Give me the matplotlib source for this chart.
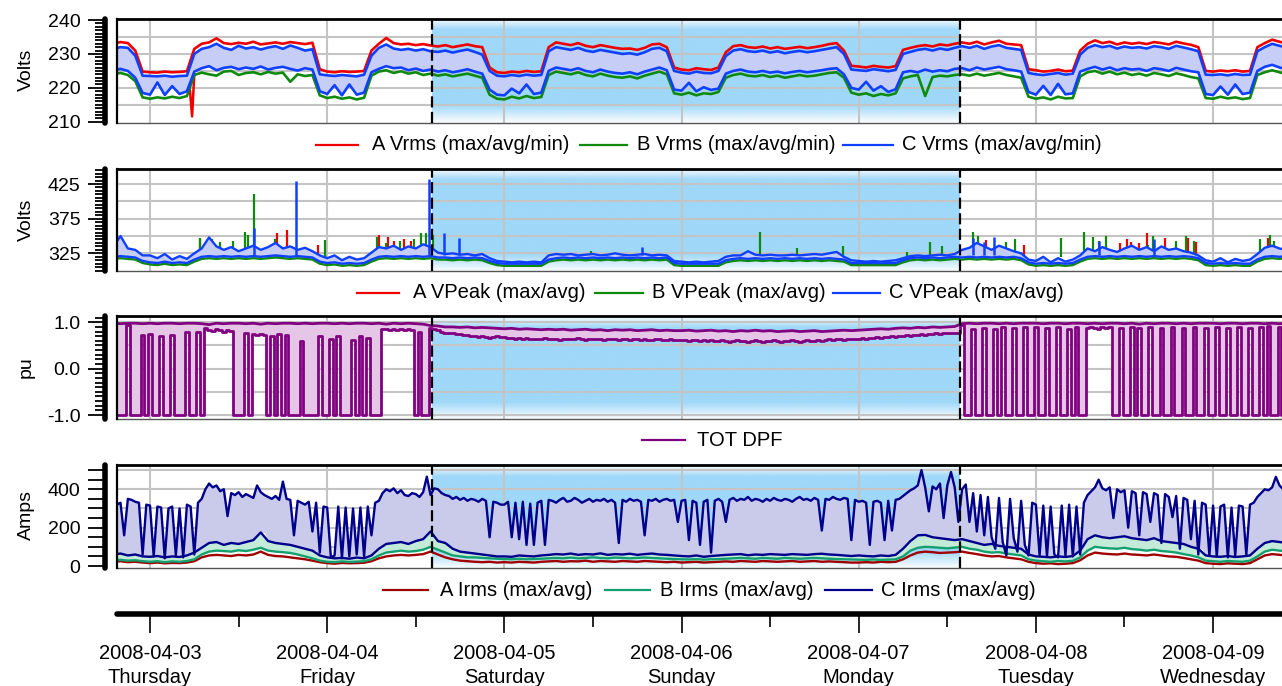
import numpy as np
import matplotlib
matplotlib.use("Agg")
import matplotlib.pyplot as plt
from matplotlib.colors import to_rgb
from matplotlib.lines import Line2D
from matplotlib.ticker import MultipleLocator, FixedLocator, FuncFormatter

plt.rcParams['font.family'] = ['Liberation Sans', 'DejaVu Sans']
plt.rcParams['axes.unicode_minus'] = False

W, H, DPI = 1282, 686, 100

# ---------------------------------------------------------------------------
# Time base: hours counted from 2008-04-03 00:00; first sample is Wed 19:00
# ---------------------------------------------------------------------------
FIRST_HOUR = -5
day_dates = ["2008-04-03", "2008-04-04", "2008-04-05", "2008-04-06",
             "2008-04-07", "2008-04-08", "2008-04-09"]
day_names = ["Thursday", "Friday", "Saturday", "Sunday", "Monday",
             "Tuesday", "Wednesday"]
weekend_hours = (38.2, 109.7)

# ---------------------------------------------------------------------------
# RMS voltage (hourly)
# ---------------------------------------------------------------------------
a_vrms_max = [
    233.0, 233.5, 233.2, 231.0, 224.8,
    224.6, 224.5, 224.8, 224.6, 224.7, 224.9, 231.5, 233.0, 233.4, 234.6, 233.2, 232.9,
    233.3, 233.0, 233.6, 232.8, 233.1, 233.4, 233.0, 233.5, 233.2, 232.9, 233.3, 225.5,
    224.8, 224.6, 224.9, 224.7, 224.8, 225.0, 231.0, 233.0, 234.7, 233.2, 232.8, 233.0,
    232.6, 232.9, 232.5, 232.2, 232.6, 232.0, 232.4, 232.8, 232.3, 232.0, 226.0, 224.6,
    224.4, 224.8, 224.6, 225.0, 224.7, 224.9, 232.0, 233.4, 233.0, 232.6, 233.2, 232.4,
    232.0, 232.6, 232.2, 231.8, 231.5, 231.6, 231.2, 231.8, 232.8, 233.0, 232.0, 226.0,
    225.4, 225.2, 225.8, 225.5, 225.3, 226.0, 230.5, 232.3, 232.6, 232.0, 231.8, 232.2,
    231.6, 232.0, 231.5, 231.8, 232.1, 231.7, 232.0, 232.4, 232.9, 233.2, 231.0, 226.5,
    226.3, 226.0, 226.5, 226.2, 226.0, 226.4, 231.2, 231.8, 232.3, 232.6, 232.2, 232.8,
    232.5, 233.0, 233.4, 233.0, 233.6, 232.8, 233.4, 233.9, 233.0, 232.8, 232.6, 225.5,
    225.2, 224.8, 225.0, 225.4, 224.9, 225.1, 231.0, 233.0, 234.0, 233.2, 233.6, 232.8,
    233.4, 233.0, 233.3, 232.9, 233.5, 233.2, 232.8, 233.6, 233.1, 232.7, 232.0, 225.0,
    224.8, 225.1, 224.9, 225.2, 224.8, 225.0, 232.0, 233.2, 234.2, 233.6, 233.0,
]
c_vrms_max = [
    231.5, 232.0, 231.8, 229.5, 223.6,
    223.5, 223.4, 223.6, 223.3, 223.5, 223.6, 230.0, 231.5, 232.0, 233.0, 231.8, 231.2,
    232.4, 231.6, 232.0, 231.3, 231.9, 232.3, 231.5, 232.5, 231.8, 231.0, 231.4, 224.0,
    223.7, 223.5, 223.8, 223.6, 223.4, 223.9, 229.5, 231.8, 232.8, 231.6, 231.2, 231.5,
    231.0, 231.4, 230.8, 230.6, 231.0, 230.4, 230.9, 231.3, 230.6, 229.8, 225.0, 223.6,
    223.4, 223.8, 223.5, 223.9, 223.6, 223.8, 230.8, 232.0, 231.6, 231.2, 231.8, 231.0,
    230.6, 231.2, 230.8, 230.4, 230.0, 230.2, 229.8, 230.5, 231.5, 231.8, 230.8, 225.0,
    224.5, 224.2, 224.8, 224.4, 224.3, 225.0, 229.4, 231.0, 231.4, 230.8, 230.6, 231.0,
    230.4, 230.8, 230.2, 230.6, 230.9, 230.5, 230.8, 231.2, 231.6, 232.0, 230.0, 225.4,
    225.2, 225.0, 225.5, 225.2, 224.9, 225.3, 230.0, 230.6, 231.2, 231.5, 231.0, 231.6,
    231.2, 231.8, 232.3, 231.8, 232.4, 231.5, 232.2, 232.6, 231.8, 231.5, 231.2, 224.4,
    224.0, 223.8, 224.1, 224.4, 223.9, 224.2, 229.8, 231.8, 232.6, 232.0, 232.4, 231.6,
    232.2, 231.8, 232.0, 231.6, 232.3, 232.0, 231.5, 232.4, 231.9, 231.4, 230.8, 223.9,
    223.8, 224.0, 223.7, 224.1, 223.8, 223.9, 230.8, 232.0, 233.0, 232.4, 231.8,
]
c_vrms_min = [
    225.2, 225.6, 225.0, 223.0, 218.5,
    218.0, 221.6, 217.9, 220.5, 218.2, 219.0, 224.8, 225.8, 226.4, 225.2, 225.9, 226.2,
    225.5, 226.0, 225.6, 226.3, 225.4, 225.9, 226.2, 225.6, 225.1, 225.8, 225.4, 219.0,
    218.2, 220.8, 217.8, 221.0, 218.0, 218.6, 224.6, 225.6, 226.4, 225.8, 226.0, 225.2,
    225.7, 225.0, 225.4, 224.8, 225.2, 224.6, 225.0, 225.5, 224.8, 224.2, 219.5, 218.0,
    217.8, 219.8, 218.4, 221.0, 218.2, 218.6, 225.0, 226.0, 225.6, 225.2, 225.8, 225.0,
    224.6, 225.4, 224.8, 224.4, 224.2, 224.6, 224.0, 224.8, 225.4, 226.0, 225.2, 219.5,
    219.2, 221.5, 219.0, 220.2, 219.4, 219.8, 224.2, 225.0, 225.4, 224.8, 224.6, 225.0,
    224.5, 224.8, 224.3, 224.7, 225.0, 224.6, 224.9, 225.2, 225.6, 225.8, 224.0, 220.0,
    219.5, 221.8, 219.2, 220.5, 218.8, 219.6, 224.6, 225.0, 224.6, 225.4, 224.8, 225.2,
    224.9, 225.6, 225.8, 225.2, 226.0, 225.4, 225.8, 226.2, 225.5, 225.2, 224.8, 218.8,
    218.0, 220.6, 217.9, 221.2, 218.1, 218.4, 224.8, 225.6, 226.2, 225.4, 226.0, 225.2,
    225.8, 225.4, 225.6, 225.0, 225.8, 225.5, 225.0, 225.9, 225.4, 224.9, 224.6, 218.2,
    217.9, 220.4, 218.0, 221.0, 218.2, 218.6, 225.0, 226.2, 226.8, 226.0, 225.4,
]
b_vrms_min = [
    224.0, 224.4, 223.8, 222.0, 217.2,
    216.8, 217.2, 216.9, 217.4, 217.0, 217.6, 223.8, 224.5, 224.0, 223.6, 224.8, 225.0,
    223.8, 224.4, 224.6, 224.0, 224.7, 224.2, 224.5, 221.8, 224.0, 223.5, 223.8, 217.8,
    217.0, 217.4, 216.8, 217.2, 216.6, 217.1, 223.6, 224.8, 225.2, 224.4, 224.9, 224.2,
    224.6, 223.8, 224.2, 223.6, 224.0, 223.4, 223.8, 224.2, 223.6, 223.0, 218.0, 216.8,
    216.6, 217.4, 216.9, 217.6, 217.0, 217.3, 223.8, 224.8, 224.4, 224.0, 224.6, 223.8,
    223.4, 224.2, 223.6, 223.2, 223.0, 223.4, 222.8, 223.6, 224.2, 224.8, 224.0, 218.4,
    218.0, 218.6, 217.8, 218.4, 218.2, 218.8, 223.0, 223.8, 224.2, 223.6, 223.4, 223.8,
    223.2, 223.6, 223.0, 223.4, 223.8, 223.4, 223.6, 224.0, 224.4, 224.6, 223.0, 218.6,
    218.0, 218.4, 217.6, 218.2, 217.8, 218.4, 222.8, 223.4, 223.8, 217.6, 223.2, 223.6,
    223.4, 223.8, 224.0, 223.6, 224.2, 223.6, 224.0, 224.4, 223.8, 223.4, 223.0, 217.4,
    216.8, 217.2, 216.6, 217.4, 216.9, 217.0, 223.4, 224.6, 225.0, 224.2, 224.8, 224.0,
    224.5, 223.8, 224.2, 223.6, 224.4, 224.0, 223.5, 224.3, 223.8, 223.2, 222.8, 217.0,
    216.8, 217.4, 216.9, 217.2, 216.7, 217.0, 223.8, 224.6, 225.2, 224.6, 224.0,
]
# A-phase minimum around the Thursday morning sag
a_vrms_min_hours = [5.4, 5.7, 6.0]
a_vrms_min = [219.5, 211.6, 224.0]

# ---------------------------------------------------------------------------
# Peak voltage (hourly) and isolated peak readings (hour, volts)
# ---------------------------------------------------------------------------
c_vpk_max = [
    334, 350, 332, 330, 322,
    322, 318, 324, 316, 321, 317, 325, 332, 348, 335, 330, 334,
    328, 332, 336, 330, 334, 340, 332, 335, 330, 333, 328, 322,
    318, 322, 315, 320, 316, 318, 326, 334, 332, 336, 330, 335,
    332, 338, 334, 326, 324, 325, 323, 324, 322, 324, 318, 314,
    313, 312, 313, 312, 313, 312, 322, 324, 323, 324, 322, 323,
    324, 322, 323, 325, 323, 322, 323, 324, 322, 323, 322, 314,
    313, 312, 313, 312, 313, 314, 320, 322, 322, 328, 323, 322,
    323, 322, 322, 323, 322, 323, 324, 323, 325, 327, 320, 315,
    314, 313, 314, 313, 314, 315, 318, 321, 322, 321, 322, 323,
    322, 324, 330, 333, 340, 335, 330, 336, 332, 328, 325, 316,
    314, 320, 312, 318, 313, 316, 322, 332, 328, 334, 330, 327,
    332, 336, 330, 334, 328, 335, 330, 332, 328, 326, 322, 315,
    313, 318, 312, 317, 314, 316, 324, 333, 336, 332, 330,
]
c_vpk_avg = [
    320, 321, 320, 319, 314,
    312, 311, 313, 311, 312, 311, 316, 320, 321, 320, 321, 320,
    321, 320, 321, 320, 321, 322, 321, 320, 321, 320, 319, 313,
    311, 312, 310, 311, 310, 311, 316, 320, 321, 320, 321, 320,
    321, 320, 321, 319, 319, 318, 319, 318, 319, 318, 314, 311,
    310, 310, 310, 310, 310, 310, 316, 318, 319, 318, 319, 318,
    319, 318, 319, 318, 319, 318, 319, 318, 319, 318, 319, 311,
    310, 310, 310, 310, 310, 310, 315, 317, 318, 317, 318, 317,
    318, 317, 318, 317, 318, 317, 318, 317, 318, 317, 316, 311,
    311, 311, 311, 311, 311, 311, 315, 318, 319, 318, 319, 318,
    319, 320, 319, 320, 319, 320, 319, 320, 319, 320, 318, 312,
    310, 311, 310, 311, 310, 311, 316, 320, 321, 320, 321, 320,
    321, 320, 321, 320, 321, 320, 321, 320, 321, 320, 318, 311,
    310, 311, 310, 311, 310, 310, 316, 320, 321, 320, 321,
]
b_vpk_avg = [
    317, 318, 317, 316, 311,
    309, 308, 310, 308, 309, 308, 313, 317, 318, 317, 318, 317,
    318, 317, 318, 317, 318, 319, 318, 317, 318, 317, 316, 310,
    308, 309, 307, 308, 307, 308, 313, 317, 318, 317, 318, 317,
    318, 317, 318, 316, 316, 315, 316, 315, 316, 315, 311, 308,
    307, 307, 307, 307, 307, 307, 313, 315, 316, 315, 316, 315,
    316, 315, 316, 315, 316, 315, 316, 315, 316, 315, 316, 308,
    307, 307, 307, 307, 307, 307, 312, 314, 315, 314, 315, 314,
    315, 314, 315, 314, 315, 314, 315, 314, 315, 314, 313, 308,
    308, 308, 308, 308, 308, 308, 312, 315, 316, 315, 316, 315,
    316, 317, 316, 317, 316, 317, 316, 317, 316, 317, 315, 309,
    307, 308, 307, 308, 307, 308, 313, 317, 318, 317, 318, 317,
    318, 317, 318, 317, 318, 317, 318, 317, 318, 317, 315, 308,
    307, 308, 307, 308, 307, 307, 313, 317, 318, 317, 318,
]
c_vpk_peak_h = [14.1, 19.8, 37.75, 39.8, 41.8, 66.7, 111.5, 113.0, 114.3, 128.5, 136.0]
c_vpk_peak_v = [361, 429, 432, 354, 347, 334, 347, 342, 348, 343, 345]
b_vpk_peak_h = [6.8, 8.4, 9.5, 11.3, 12.9, 13.3, 14.1, 16.9, 23.7,
                30.8, 31.9, 33.9, 35.7, 36.7, 37.4, 38.3, 59.7, 82.6, 87.7, 93.9,
                102.5, 105.6, 107.3, 111.5, 112.2, 115.9, 117.2,
                123.4, 126.5, 127.7, 128.5, 129.5, 135.2, 135.9, 139.0, 140.3, 141.4,
                150.3, 151.7, 152.3]
b_vpk_peak_v = [347, 345, 342, 343, 356, 352, 411, 345, 344,
                348, 340, 343, 346, 354, 355, 352, 329, 356, 333, 335,
                327, 342, 335, 356, 350, 342, 345,
                347, 356, 349, 343, 350, 337, 350, 343, 350, 343,
                345, 352, 343]
a_vpk_peak_h = [6.8, 17.2, 18.6, 22.8, 31.0, 32.2, 33.0, 34.4, 35.3,
                113.3, 118.4, 131.4, 132.3, 132.9, 133.9, 135.0, 137.5, 140.6, 141.7,
                151.4]
a_vpk_peak_v = [347, 354, 358, 337, 351, 348, 343, 345, 343,
                344, 337, 340, 345, 342, 340, 354, 347, 347, 342,
                347]

# ---------------------------------------------------------------------------
# Displacement power factor: max hourly, min half-hourly
# ---------------------------------------------------------------------------
dpf_max = [
    0.98, 0.97, 0.98, 0.98, 0.97,
    0.98, 0.97, 0.98, 0.98, 0.97, 0.98, 0.98, 0.97, 0.95, 0.98, 0.97, 0.98,
    0.98, 0.97, 0.98, 0.96, 0.98, 0.97, 0.98, 0.98, 0.97, 0.98, 0.97, 0.98,
    0.98, 0.97, 0.98, 0.97, 0.98, 0.98, 0.97, 0.98, 0.96, 0.98, 0.97, 0.98,
    0.97, 0.96, 0.93, 0.92, 0.90, 0.90, 0.89, 0.90, 0.88, 0.89, 0.88, 0.87,
    0.86, 0.87, 0.85, 0.86, 0.85, 0.84, 0.85, 0.84, 0.85, 0.83, 0.84, 0.85,
    0.83, 0.84, 0.82, 0.84, 0.83, 0.84, 0.82, 0.83, 0.84, 0.82, 0.83, 0.82,
    0.82, 0.83, 0.81, 0.82, 0.83, 0.81, 0.82, 0.80, 0.82, 0.81, 0.83, 0.81,
    0.82, 0.80, 0.81, 0.82, 0.80, 0.81, 0.82, 0.80, 0.81, 0.82, 0.83, 0.82,
    0.83, 0.84, 0.85, 0.86, 0.85, 0.87, 0.88, 0.87, 0.89, 0.88, 0.90, 0.89,
    0.90, 0.91, 0.97, 0.98, 0.97, 0.98, 0.98, 0.97, 0.98, 0.97, 0.98, 0.98,
    0.98, 0.97, 0.98, 0.98, 0.97, 0.98, 0.98, 0.97, 0.98, 0.97, 0.98, 0.98,
    0.97, 0.98, 0.96, 0.98, 0.97, 0.98, 0.98, 0.97, 0.98, 0.97, 0.98, 0.98,
    0.98, 0.97, 0.98, 0.98, 0.97, 0.98, 0.98, 0.97, 0.98, 0.97, 0.98,
]
dpf_min = [
    -1, -1, -1, -1, 0.95, -1, -1, -1, 0.72, -1,
    # Thu
    0.75, -1, -1, 0.70, -1, -1, 0.72, -1, -1, -1, 0.80, -1,
    -1, 0.80, -1, 0.88, 0.84, 0.82, 0.86, 0.83, 0.80, 0.84, 0.82, -1,
    -1, -1, 0.78, -1, 0.75, 0.72, 0.74, 0.72, -1, 0.70, -1, 0.75,
    -1, 0.72, -1, -1, -1, 0.60, -1, -1, -1, -1, 0.70, -1,
    # Fri
    -1, 0.65, -1, 0.70, -1, -1, -1, 0.62, -1, 0.70, -1, 0.66,
    -1, -1, -1, 0.85, 0.86, 0.84, 0.85, 0.83, 0.86, 0.84, 0.85, 0.83,
    -1, 0.80, -1, -1, 0.88, 0.85, 0.83, 0.80, 0.78, 0.78, 0.76, 0.75,
    0.74, 0.72, 0.72, 0.70, 0.70, 0.68, 0.70, 0.68, 0.66, 0.68, 0.70, 0.68,
    # Sat
    0.68, 0.66, 0.67, 0.65, 0.66, 0.64, 0.66, 0.65, 0.63, 0.65, 0.64, 0.66,
    0.65, 0.63, 0.64, 0.62, 0.64, 0.65, 0.63, 0.64, 0.66, 0.64, 0.62, 0.64,
    0.63, 0.65, 0.64, 0.62, 0.63, 0.65, 0.64, 0.62, 0.64, 0.63, 0.61, 0.63,
    0.64, 0.62, 0.63, 0.61, 0.62, 0.64, 0.63, 0.61, 0.62, 0.63, 0.61, 0.62,
    # Sun
    0.61, 0.62, 0.60, 0.62, 0.61, 0.59, 0.61, 0.60, 0.62, 0.60, 0.59, 0.61,
    0.60, 0.58, 0.60, 0.61, 0.59, 0.60, 0.58, 0.60, 0.61, 0.59, 0.58, 0.60,
    0.59, 0.61, 0.60, 0.58, 0.60, 0.59, 0.61, 0.60, 0.58, 0.60, 0.61, 0.59,
    0.60, 0.62, 0.60, 0.61, 0.63, 0.62, 0.64, 0.63, 0.62, 0.64, 0.65, 0.63,
    # Mon
    0.64, 0.66, 0.65, 0.67, 0.66, 0.68, 0.67, 0.69, 0.68, 0.70, 0.69, 0.71,
    0.70, 0.72, 0.71, 0.73, 0.72, 0.74, 0.73, 0.75, 0.74, 0.76, 0.75, 0.77,
    0.76, 0.78, 0.77, 0.78, 0.95, -1, -1, 0.85, -1, -1, 0.88, -1,
    -1, 0.85, -1, 0.90, -1, -1, 0.88, -1, -1, 0.90, -1, -1,
    # Tue
    0.90, -1, -1, 0.88, -1, -1, 0.90, -1, -1, 0.86, -1, 0.90,
    -1, -1, 0.88, 0.90, 0.88, 0.86, 0.90, 0.88, 0.90, -1, -1, 0.88,
    -1, -1, 0.90, -1, 0.88, -1, -1, 0.90, -1, -1, 0.88, -1,
    -1, 0.90, -1, -1, 0.88, -1, -1, 0.90, -1, -1, 0.88, -1,
    # Wed
    -1, 0.90, -1, -1, 0.88, -1, -1, 0.90, -1, -1, 0.88, -1,
    -1, 0.90, -1, 0.92, -1, -1, 0.90, -1, -1, 0.90,
]

# ---------------------------------------------------------------------------
# RMS current: C-phase max half-hourly, averages hourly
# ---------------------------------------------------------------------------
c_irms_max = [
    325, 320, 330, 160, 350, 345, 335, 330, 60, 320,
    # Thu
    315, 50, 310, 305, 40, 300, 310, 55, 300, 45, 320, 310,
    60, 330, 350, 400, 430, 410, 420, 390, 400, 260, 380, 370,
    385, 360, 375, 365, 355, 420, 385, 370, 360, 350, 365, 345,
    440, 350, 345, 160, 340, 330, 320, 335, 180, 330, 70, 310,
    # Fri
    305, 45, 55, 310, 40, 305, 50, 300, 60, 305, 50, 310,
    160, 330, 340, 380, 400, 390, 405, 380, 395, 370, 365, 380,
    375, 360, 385, 466, 370, 405, 400, 380, 370, 365, 350, 360,
    345, 355, 340, 350, 345, 335, 350, 340, 150, 335, 330, 320,
    # Sat
    320, 335, 150, 330, 140, 335, 110, 325, 110, 330, 340, 110,
    345, 340, 330, 345, 355, 335, 340, 355, 345, 330, 340, 350,
    335, 345, 340, 350, 335, 345, 330, 120, 345, 335, 350, 340,
    345, 335, 160, 345, 340, 350, 335, 345, 350, 340, 345, 230,
    # Sun
    340, 345, 135, 340, 330, 110, 335, 345, 70, 340, 350, 335,
    230, 345, 355, 340, 350, 345, 360, 340, 350, 345, 335, 350,
    340, 355, 345, 340, 350, 345, 335, 350, 360, 345, 350, 340,
    355, 345, 185, 350, 345, 360, 350, 345, 355, 350, 135, 345,
    # Mon
    335, 340, 330, 110, 335, 340, 330, 135, 340, 185, 345, 350,
    365, 380, 395, 405, 420, 500, 410, 285, 415, 400, 430, 250,
    420, 490, 410, 230, 400, 425, 230, 380, 180, 370, 160, 360,
    150, 90, 355, 125, 55, 350, 145, 75, 340, 110, 55, 330,
    # Tue
    320, 55, 315, 50, 310, 60, 45, 315, 55, 320, 50, 310,
    60, 330, 370, 390, 410, 450, 405, 395, 410, 250, 400, 385,
    395, 200, 390, 380, 160, 385, 375, 230, 380, 370, 120, 375,
    360, 255, 365, 90, 355, 345, 140, 340, 60, 330, 320, 55,
    # Wed
    315, 50, 310, 320, 45, 305, 55, 315, 310, 60, 320, 330,
    360, 380, 400, 395, 410, 465, 420, 400, 390, 395,
]
c_irms_avg = [
    60, 65, 55, 60, 50,
    48, 52, 45, 50, 47, 55, 70, 95, 120, 125, 110, 120, 115, 125, 135, 175, 130, 120, 115, 110, 100, 90, 80, 55,
    45, 40, 42, 38, 44, 40, 55, 90, 115, 120, 125, 115, 130, 140, 180, 130, 120, 90, 75, 70, 65, 60, 55, 50,
    50, 48, 55, 52, 50, 55, 58, 62, 60, 65, 58, 62, 60, 66, 58, 62, 60, 64, 58, 62, 65, 60, 58, 55,
    52, 50, 55, 48, 52, 55, 58, 60, 62, 56, 60, 58, 62, 60, 58, 62, 60, 58, 62, 64, 60, 58, 55, 52,
    55, 52, 50, 55, 52, 58, 90, 130, 160, 162, 150, 145, 140, 135, 140, 130, 120, 110, 115, 105, 100, 95, 90, 60,
    50, 48, 45, 50, 47, 52, 80, 140, 160, 150, 145, 150, 155, 145, 140, 135, 145, 130, 125, 120, 115, 100, 90, 55,
    50, 48, 52, 47, 50, 55, 90, 120, 130, 125, 120,
]
b_irms_avg = [
    30, 32, 28, 30, 25,
    22, 25, 20, 24, 22, 26, 35, 60, 75, 80, 78, 75, 82, 78, 85, 95, 80, 75, 72, 68, 60, 50, 40, 28,
    22, 20, 24, 21, 23, 25, 35, 55, 70, 75, 80, 75, 78, 85, 100, 85, 70, 55, 50, 45, 45, 42, 40, 38,
    36, 35, 38, 35, 36, 38, 40, 42, 40, 44, 40, 42, 45, 42, 40, 44, 42, 40, 42, 44, 42, 40, 38, 36,
    35, 34, 36, 33, 35, 36, 38, 40, 42, 40, 38, 42, 40, 38, 42, 40, 38, 40, 42, 40, 38, 36, 35, 34,
    33, 32, 34, 32, 33, 35, 50, 80, 95, 100, 98, 95, 92, 96, 100, 90, 85, 75, 70, 72, 65, 60, 55, 35,
    28, 25, 22, 26, 24, 27, 45, 80, 100, 95, 92, 90, 95, 88, 85, 80, 85, 78, 75, 70, 62, 55, 45, 28,
    25, 22, 26, 24, 22, 28, 50, 75, 85, 80, 78,
]
a_irms_avg = [
    22, 25, 20, 22, 18,
    15, 18, 14, 16, 15, 18, 25, 45, 55, 58, 55, 52, 58, 55, 60, 75, 58, 52, 50, 45, 40, 35, 28, 20,
    15, 12, 16, 14, 15, 17, 25, 40, 50, 55, 58, 55, 58, 62, 75, 60, 45, 35, 28, 25, 22, 20, 22, 18,
    20, 18, 22, 20, 18, 22, 24, 26, 22, 25, 24, 28, 22, 26, 24, 22, 26, 24, 22, 26, 24, 22, 20, 22,
    18, 20, 22, 18, 20, 22, 24, 22, 26, 24, 22, 26, 24, 22, 24, 26, 22, 24, 26, 22, 24, 22, 20, 18,
    18, 20, 18, 22, 20, 22, 35, 55, 70, 75, 72, 68, 70, 72, 75, 68, 62, 55, 50, 52, 45, 40, 35, 22,
    15, 12, 14, 10, 12, 15, 30, 55, 70, 65, 62, 60, 65, 60, 58, 55, 60, 55, 50, 48, 42, 35, 28, 15,
    12, 10, 14, 12, 10, 15, 35, 55, 62, 58, 55,
]

# ---------------------------------------------------------------------------
# helpers
# ---------------------------------------------------------------------------
def hourly_x(values):
    assert len(values) == 160, len(values)
    return (FIRST_HOUR + np.arange(len(values))) / 24.0


def half_hourly_x(values):
    assert len(values) == 320, len(values)
    return (FIRST_HOUR + 0.5 * np.arange(len(values))) / 24.0


XLIM = (-0.1863, 6.389)
SHADE = '#9fd8f9'
GRID = '#c4c4c4'
FONT = 14

fig = plt.figure(figsize=(W / DPI, H / DPI), dpi=DPI)


def px_axes(top, bottom, left=117, right=1282):
    return fig.add_axes([left / W, 1 - bottom / H, (right - left) / W, (bottom - top) / H])


def setup_panel(ax, ylim, grid_vals, major, minor, fmt, label, label_y):
    ws, we = weekend_hours[0] / 24.0, weekend_hours[1] / 24.0
    n = 256
    frac = np.linspace(0, 1, n)
    alpha = np.clip(np.minimum(0.05 + frac / 0.17, (1 - frac) / 0.11), 0, 1)
    img = np.zeros((n, 2, 4))
    img[..., :3] = to_rgb(SHADE)
    img[..., 3] = alpha[:, None]
    ax.imshow(img, extent=[ws, we, ylim[0], ylim[1]], origin='lower',
              aspect='auto', interpolation='bilinear', zorder=0)
    for v in grid_vals:
        ax.axhline(v, color=GRID, lw=1.5, zorder=0.5)
    for d in range(7):
        ax.axvline(d, color=GRID, lw=1.5, zorder=0.5)
    for xb in (ws, we):
        ax.axvline(xb, color='black', lw=1.6, ls=(0, (5, 2)), zorder=6)
    ax.set_xlim(XLIM)
    ax.set_ylim(ylim)
    ax.tick_params(axis='x', bottom=False, labelbottom=False)

    sp = ax.spines
    sp['right'].set_visible(False)
    sp['top'].set_linewidth(2.0)
    sp['bottom'].set_linewidth(1.0)
    sp['bottom'].set_color('#555555')
    sp['left'].set_position(('outward', 8.3))
    sp['left'].set_linewidth(4.0)
    sp['left'].set_capstyle('round')
    ax.plot([0, 0], [0, 1], transform=ax.transAxes, color='black', lw=1.6,
            clip_on=False, zorder=7)

    ax.yaxis.set_major_locator(major)
    ax.yaxis.set_minor_locator(minor)
    ax.yaxis.set_major_formatter(fmt)
    ax.tick_params(axis='y', which='major', direction='out', length=12.5,
                   width=1.3, pad=5.5, labelsize=FONT)
    ax.tick_params(axis='y', which='minor', direction='out', length=7,
                   width=1.3)
    fig.text(26 / W, 1 - label_y / H, label, rotation=90, ha='center',
             va='center', fontsize=FONT)


def legend_row(y, entries):
    yf = 1 - y / H
    for x0, x1, xt, color, text in entries:
        fig.add_artist(Line2D([x0 / W, x1 / W], [yf, yf], transform=fig.transFigure,
                              color=color, lw=1.6))
        fig.text(xt / W, yf, text, ha='left', va='center', fontsize=14.5)


RED, GREEN, BLUE = '#ee0000', '#0f8a0f', '#1040ff'
LAVENDER = '#c6cdf6'

# ---------------------------------------------------------------------------
# Panel 1: RMS voltage
# ---------------------------------------------------------------------------
ax1 = px_axes(19, 122.5)
setup_panel(ax1, (209.8, 240.3), [215, 220, 225, 230, 235],
            MultipleLocator(10), MultipleLocator(1),
            FuncFormatter(lambda v, p: f"{v:.0f}"), "Volts", 70)
xh = hourly_x(a_vrms_max)
ax1.plot(np.array(a_vrms_min_hours) / 24.0, a_vrms_min, color=RED, lw=1.8, zorder=1.5)
ax1.fill_between(xh, c_vrms_min, c_vrms_max, color=LAVENDER, lw=0, zorder=2)
ax1.plot(xh, b_vrms_min, color=GREEN, lw=1.9, zorder=3)
ax1.plot(xh, a_vrms_max, color=RED, lw=1.9, zorder=3)
ax1.plot(xh, c_vrms_max, color=BLUE, lw=1.9, zorder=4)
ax1.plot(xh, c_vrms_min, color=BLUE, lw=1.9, zorder=4)

legend_row(145, [(316, 358, 372, RED, "A Vrms (max/avg/min)"),
                 (580, 627, 637, GREEN, "B Vrms (max/avg/min)"),
                 (843, 893, 902, BLUE, "C Vrms (max/avg/min)")])

# ---------------------------------------------------------------------------
# Panel 2: peak voltage
# ---------------------------------------------------------------------------
ax2 = px_axes(168.5, 271)
setup_panel(ax2, (299.5, 447.4), [325, 350, 375, 400, 425],
            FixedLocator([325, 375, 425]), MultipleLocator(5),
            FuncFormatter(lambda v, p: f"{v:.0f}"), "Volts", 220)
ax2.vlines(np.array(a_vpk_peak_h) / 24.0, 320, a_vpk_peak_v, color=RED, lw=1.6, zorder=1.8)
ax2.vlines(np.array(b_vpk_peak_h) / 24.0, 320, b_vpk_peak_v, color=GREEN, lw=1.6, zorder=1.8)
ax2.fill_between(xh, c_vpk_avg, c_vpk_max, color=LAVENDER, lw=0, zorder=2)
ax2.plot(xh, b_vpk_avg, color=GREEN, lw=1.7, zorder=2.5)
ax2.plot(xh, c_vpk_avg, color=BLUE, lw=1.7, zorder=3)
ax2.plot(xh, c_vpk_max, color=BLUE, lw=1.7, zorder=3)
ax2.vlines(np.array(c_vpk_peak_h) / 24.0, 322, c_vpk_peak_v, color=BLUE, lw=1.8, zorder=3)

legend_row(293, [(357, 399, 413, RED, "A VPeak (max/avg)"),
                 (595, 643, 652, GREEN, "B VPeak (max/avg)"),
                 (833, 880, 889, BLUE, "C VPeak (max/avg)")])

# ---------------------------------------------------------------------------
# Panel 3: displacement power factor
# ---------------------------------------------------------------------------
PURPLE, PINK = '#800080', '#e6c6e6'
ax3 = px_axes(316, 418.5)
setup_panel(ax3, (-1.075, 1.136), [-1.0, -0.5, 0.0, 0.5, 1.0],
            MultipleLocator(1.0), MultipleLocator(0.1),
            FuncFormatter(lambda v, p: f"{v:.1f}"), "pu", 367)
xq = half_hourly_x(dpf_min)
ax3.fill_between(xq, dpf_min, np.repeat(dpf_max, 2), color=PINK, lw=0, zorder=2,
                 step='mid')
ax3.plot(xh, dpf_max, color=PURPLE, lw=2.0, zorder=3)
ax3.plot(xq, dpf_min, color=PURPLE, lw=2.0, zorder=3, drawstyle='steps-mid')

legend_row(440, [(642, 685, 697, PURPLE, "TOT DPF")])

# ---------------------------------------------------------------------------
# Panel 4: RMS current
# ---------------------------------------------------------------------------
NAVY, TEAL, DARKRED = '#00008c', '#14a06e', '#a00000'
ax4 = px_axes(465, 567.5)
setup_panel(ax4, (-7.8, 526.7), [100, 200, 300, 400, 500],
            MultipleLocator(50), MultipleLocator(50),
            FuncFormatter(lambda v, p: f"{v:.0f}" if round(v) % 200 == 0 else ""),
            "Amps", 515)
ax4.tick_params(axis='y', which='minor', length=0)
ax4.fill_between(xq, np.repeat(c_irms_avg, 2), c_irms_max, color='#cacbea', lw=0, zorder=2)
ax4.fill_between(xh, b_irms_avg, c_irms_avg, color='#c4ead8', lw=0, zorder=2)
ax4.plot(xh, a_irms_avg, color=DARKRED, lw=1.7, zorder=3)
ax4.plot(xh, b_irms_avg, color=TEAL, lw=1.7, zorder=3)
ax4.plot(xh, c_irms_avg, color=NAVY, lw=1.7, zorder=3)
ax4.plot(xq, c_irms_max, color=NAVY, lw=1.7, zorder=3)

legend_row(590, [(383, 428, 440, DARKRED, "A Irms (max/avg)"),
                 (605, 650, 660, TEAL, "B Irms (max/avg)"),
                 (825, 872, 881, NAVY, "C Irms (max/avg)")])

# ---------------------------------------------------------------------------
# Shared time ruler
# ---------------------------------------------------------------------------
axt = fig.add_axes([117 / W, 1 - 614 / H, (1282 - 117) / W, 0.0005])
axt.set_xlim(XLIM)
axt.set_ylim(0, 1)
axt.patch.set_visible(False)
for s in ('left', 'right', 'top'):
    axt.spines[s].set_visible(False)
axt.spines['bottom'].set_linewidth(4.0)
axt.spines['bottom'].set_capstyle('round')
axt.set_yticks([])
axt.set_xticks(range(len(day_dates)))
axt.set_xticklabels([f"{d}\n{n}" for d, n in zip(day_dates, day_names)],
                    fontsize=14.5, linespacing=1.3)
axt.xaxis.set_minor_locator(FixedLocator([d + 0.5 for d in range(len(day_dates))]))
axt.tick_params(axis='x', which='major', direction='out', length=13.7, width=1.2, pad=8)
axt.tick_params(axis='x', which='minor', direction='out', length=9.4, width=1.2)

fig.savefig("out.png", dpi=DPI)
